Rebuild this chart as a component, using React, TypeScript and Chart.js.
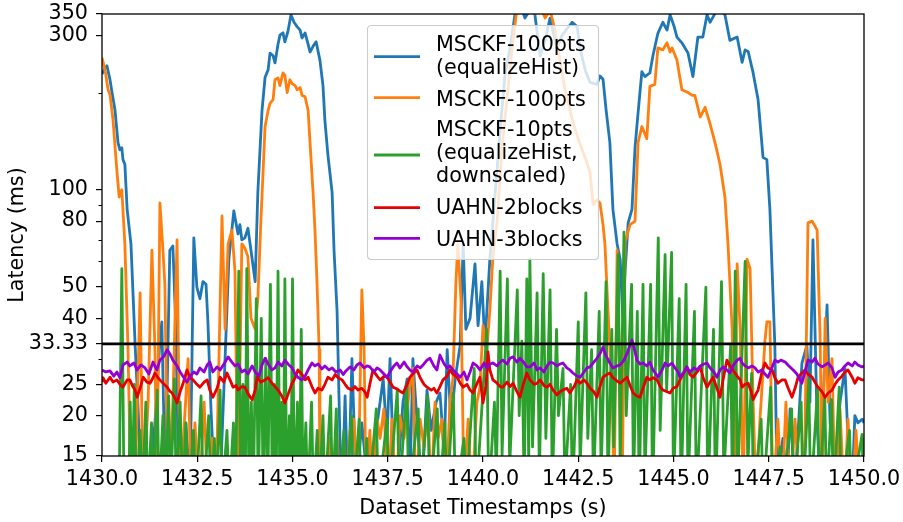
import React, { useEffect, useRef } from 'react';
import { Chart, registerables } from 'chart.js';

Chart.register(...registerables);

const FONT = '"DejaVu Sans", "Liberation Sans", sans-serif';
const FS = 20.7;

// ---- axis data ----
const xTicks = [1430, 1432.5, 1435, 1437.5, 1440, 1442.5, 1445, 1447.5, 1450];
const yMajorTicks = [15, 20, 25, 33.33, 40, 50, 80, 100, 300, 350];
const yMinorTicks = [30, 60, 70, 90, 200];
const threshold = 33.33;

// ---- series labels ----
const seriesLabels: string[][] = [
  ['MSCKF-100pts', '(equalizeHist)'],
  ['MSCKF-100pts'],
  ['MSCKF-10pts', '(equalizeHist,', 'downscaled)'],
  ['UAHN-2blocks'],
  ['UAHN-3blocks'],
];

// ---- series values [timestamp s, latency ms] ----
const msckf100Eq: [number, number][] = [
  [1430.0, 228], [1430.08, 238], [1430.13, 242], [1430.21, 219], [1430.26, 201], [1430.34, 177], [1430.42, 140], [1430.47, 133], [1430.52, 135], [1430.55, 124], [1430.6, 120], [1430.66, 87], [1430.76, 68], [1430.81, 49], [1430.87, 33], [1430.94, 22], [1431.02, 13], [1431.2, 11], [1431.39, 19], [1431.52, 34], [1431.57, 39], [1431.66, 12], [1431.78, 65], [1431.86, 67], [1431.94, 37], [1432.02, 11], [1432.2, 19], [1432.31, 12], [1432.41, 71], [1432.49, 50], [1432.57, 46], [1432.65, 52], [1432.73, 51], [1432.78, 39], [1432.86, 21], [1432.97, 11], [1433.1, 12], [1433.23, 30], [1433.33, 61], [1433.46, 86], [1433.57, 73], [1433.62, 78], [1433.67, 70], [1433.75, 71], [1433.83, 76], [1433.91, 65], [1434.02, 52], [1434.09, 98], [1434.2, 176], [1434.28, 223], [1434.36, 235], [1434.41, 265], [1434.49, 260], [1434.54, 247], [1434.62, 282], [1434.67, 301], [1434.75, 306], [1434.8, 287], [1434.88, 309], [1434.96, 348], [1435.04, 330], [1435.12, 320], [1435.2, 312], [1435.25, 295], [1435.33, 306], [1435.41, 282], [1435.46, 267], [1435.54, 278], [1435.62, 287], [1435.72, 252], [1435.8, 210], [1435.85, 164], [1435.93, 128], [1436.04, 98], [1436.09, 65], [1436.17, 42], [1436.25, 16], [1436.3, 11], [1436.38, 23], [1436.46, 11], [1436.56, 30], [1436.67, 12], [1436.82, 19], [1436.98, 12], [1437.17, 17], [1437.38, 26], [1437.48, 17], [1437.56, 30], [1437.64, 15.5], [1437.74, 12], [1437.9, 22], [1438.01, 26], [1438.08, 12], [1438.16, 30], [1438.27, 19], [1438.4, 12], [1438.53, 24], [1438.64, 18], [1438.77, 22], [1438.87, 23.5], [1438.98, 15.5], [1439.06, 32], [1439.16, 19], [1439.27, 26], [1439.4, 33], [1439.48, 68], [1439.55, 37], [1439.66, 40], [1439.79, 59], [1439.87, 38], [1439.97, 52], [1440.05, 33], [1440.18, 61], [1440.31, 94], [1440.45, 153], [1440.58, 228], [1440.71, 274], [1440.84, 350], [1440.97, 380], [1441.1, 340], [1441.23, 360], [1441.36, 350], [1441.5, 260], [1441.63, 290], [1441.76, 340], [1441.94, 274], [1442.07, 300], [1442.2, 314], [1442.34, 330], [1442.47, 320], [1442.55, 274], [1442.68, 235], [1442.81, 215], [1442.99, 212], [1443.07, 225], [1443.15, 220], [1443.23, 177], [1443.33, 140], [1443.41, 87], [1443.52, 68], [1443.6, 61], [1443.67, 40], [1443.73, 56], [1443.81, 79], [1443.91, 87], [1443.99, 135], [1444.07, 173], [1444.17, 232], [1444.25, 224], [1444.38, 230], [1444.46, 260], [1444.59, 305], [1444.72, 330], [1444.83, 312], [1444.91, 348], [1445.01, 322], [1445.09, 297], [1445.22, 285], [1445.38, 265], [1445.51, 224], [1445.64, 297], [1445.77, 297], [1445.88, 348], [1445.96, 330], [1446.04, 343], [1446.14, 360], [1446.22, 365], [1446.35, 348], [1446.48, 290], [1446.67, 297], [1446.8, 248], [1446.88, 271], [1446.96, 268], [1447.09, 230], [1447.22, 190], [1447.35, 126], [1447.45, 124], [1447.53, 87], [1447.61, 48], [1447.66, 33], [1447.72, 12], [1447.87, 17], [1447.98, 12], [1448.06, 21], [1448.19, 12], [1448.37, 29], [1448.5, 33], [1448.58, 22], [1448.66, 70], [1448.77, 19], [1448.85, 12], [1448.95, 26], [1449.03, 44], [1449.11, 19], [1449.24, 13], [1449.37, 22], [1449.5, 28], [1449.58, 17], [1449.69, 12], [1449.76, 20], [1449.84, 19], [1449.95, 19.5], [1450.0, 19],
];

const msckf100: [number, number][] = [
  [1430.0, 256], [1430.08, 235], [1430.16, 204], [1430.21, 197], [1430.29, 164], [1430.34, 137], [1430.39, 115], [1430.45, 95], [1430.52, 100], [1430.6, 68], [1430.68, 33], [1430.76, 11], [1430.87, 12], [1431.0, 48], [1431.08, 11], [1431.21, 22], [1431.31, 65], [1431.39, 32], [1431.44, 11], [1431.52, 91], [1431.6, 65], [1431.65, 51], [1431.73, 11], [1431.86, 22], [1431.97, 70], [1432.05, 11], [1432.15, 18], [1432.26, 30], [1432.34, 11], [1432.44, 19], [1432.55, 11], [1432.68, 22], [1432.78, 11], [1432.89, 17], [1432.99, 11], [1433.15, 83], [1433.23, 37], [1433.31, 68], [1433.41, 75], [1433.49, 56], [1433.57, 11], [1433.67, 68], [1433.75, 66], [1433.83, 62], [1433.91, 40], [1434.02, 37], [1434.09, 46], [1434.17, 80], [1434.28, 157], [1434.36, 176], [1434.41, 185], [1434.49, 190], [1434.54, 219], [1434.62, 222], [1434.67, 210], [1434.75, 230], [1434.8, 226], [1434.86, 200], [1434.93, 219], [1434.99, 213], [1435.07, 210], [1435.12, 204], [1435.2, 207], [1435.25, 196], [1435.33, 194], [1435.41, 176], [1435.46, 140], [1435.54, 98], [1435.59, 75], [1435.64, 53], [1435.7, 32], [1435.72, 11], [1435.88, 11], [1435.96, 17], [1436.04, 11], [1436.17, 17.5], [1436.25, 11], [1436.4, 12], [1436.51, 18], [1436.61, 19.5], [1436.72, 11], [1436.82, 49], [1436.88, 32], [1436.93, 11], [1437.03, 18], [1437.11, 11], [1437.22, 19.5], [1437.3, 17], [1437.4, 21], [1437.51, 11], [1437.61, 19.5], [1437.72, 11], [1437.82, 20], [1437.93, 17], [1438.03, 22], [1438.11, 26], [1438.16, 28], [1438.24, 11], [1438.35, 19.5], [1438.45, 16], [1438.56, 21], [1438.64, 11], [1438.74, 22], [1438.82, 17], [1438.92, 19.5], [1439.03, 11], [1439.13, 22], [1439.21, 26], [1439.29, 52], [1439.34, 68], [1439.42, 46], [1439.5, 12], [1439.61, 19.5], [1439.71, 11], [1439.84, 22], [1439.92, 24.5], [1440.0, 38], [1440.1, 32], [1440.18, 42.5], [1440.26, 62], [1440.37, 80], [1440.5, 135], [1440.63, 192], [1440.76, 271], [1440.87, 348], [1440.97, 380], [1441.1, 360], [1441.23, 375], [1441.36, 350], [1441.5, 370], [1441.63, 340], [1441.76, 360], [1441.89, 312], [1442.02, 252], [1442.15, 204], [1442.28, 177], [1442.36, 162], [1442.55, 138], [1442.7, 124], [1442.81, 113], [1442.89, 90], [1442.99, 93], [1443.07, 91], [1443.15, 78], [1443.2, 68], [1443.28, 42.5], [1443.39, 23.5], [1443.44, 11], [1443.52, 65], [1443.6, 22], [1443.65, 11], [1443.73, 69], [1443.86, 78], [1443.99, 80], [1444.07, 140], [1444.17, 157], [1444.3, 144], [1444.38, 209], [1444.51, 212], [1444.59, 275], [1444.72, 271], [1444.83, 285], [1444.91, 267], [1444.96, 275], [1445.09, 252], [1445.22, 204], [1445.38, 200], [1445.49, 196], [1445.56, 196], [1445.7, 168], [1445.83, 180], [1445.96, 160], [1446.09, 140], [1446.22, 120], [1446.35, 95], [1446.43, 68], [1446.54, 37], [1446.59, 11], [1446.67, 59], [1446.75, 37], [1446.83, 11], [1446.93, 61], [1447.01, 57], [1447.09, 22], [1447.17, 11], [1447.27, 19.5], [1447.4, 34], [1447.45, 39], [1447.53, 39], [1447.61, 11], [1447.74, 19.5], [1447.85, 11], [1447.95, 22], [1448.06, 11], [1448.19, 19.5], [1448.32, 11], [1448.45, 17], [1448.53, 79], [1448.64, 80], [1448.77, 75], [1448.85, 34], [1448.9, 11], [1448.98, 40], [1449.06, 22], [1449.16, 30], [1449.24, 11], [1449.37, 21], [1449.48, 11], [1449.58, 19.5], [1449.69, 11], [1449.79, 18], [1449.9, 11], [1450.0, 17],
];

const msckf10: [number, number][] = [
  [1430.0, 11], [1430.35, 11], [1430.45, 12], [1430.52, 57], [1430.58, 11], [1430.7, 11], [1430.74, 22], [1430.79, 11], [1430.85, 25], [1430.9, 11], [1431.0, 18], [1431.06, 11], [1431.15, 22], [1431.2, 11], [1431.3, 19], [1431.35, 11], [1431.45, 24], [1431.5, 11], [1431.6, 20], [1431.66, 11], [1431.75, 23], [1431.8, 11], [1431.9, 26], [1431.95, 11], [1432.05, 22], [1432.12, 11], [1432.2, 19], [1432.27, 11], [1432.4, 18], [1432.47, 11], [1432.6, 23], [1432.66, 11], [1432.8, 20], [1432.86, 11], [1432.95, 17], [1433.0, 11], [1433.1, 24], [1433.15, 11], [1433.28, 18], [1433.34, 11], [1433.45, 19], [1433.5, 11], [1433.59, 56], [1433.64, 11], [1433.7, 25], [1433.76, 11], [1433.8, 57], [1433.86, 11], [1433.92, 22], [1433.97, 11], [1434.05, 46], [1434.1, 11], [1434.18, 40], [1434.23, 11], [1434.3, 30], [1434.35, 11], [1434.42, 51], [1434.47, 11], [1434.52, 25], [1434.57, 11], [1434.62, 56], [1434.67, 11], [1434.72, 22], [1434.76, 11], [1434.8, 53], [1434.85, 11], [1434.92, 20], [1434.96, 11], [1435.0, 53], [1435.05, 11], [1435.13, 22], [1435.18, 11], [1435.23, 37], [1435.28, 11], [1435.35, 19], [1435.4, 11], [1435.5, 22], [1435.55, 11], [1435.65, 18], [1435.7, 11], [1435.8, 20], [1435.85, 11], [1436.0, 23], [1436.05, 11], [1436.15, 21], [1436.2, 11], [1436.35, 18], [1436.4, 11], [1436.55, 20], [1436.6, 11], [1436.75, 19.5], [1436.8, 11], [1436.95, 17], [1437.0, 11], [1437.2, 21], [1437.25, 11], [1437.48, 19.5], [1437.53, 11], [1437.75, 24], [1437.8, 11], [1438.0, 25], [1438.05, 11], [1438.3, 21], [1438.35, 11], [1438.55, 23], [1438.6, 11], [1438.8, 21], [1438.85, 11], [1439.0, 19], [1439.05, 11], [1439.22, 23.5], [1439.28, 11], [1439.5, 17], [1439.55, 11], [1439.77, 28], [1439.82, 11], [1440.1, 37], [1440.15, 11], [1440.3, 22], [1440.35, 13], [1440.45, 56], [1440.5, 15], [1440.64, 53], [1440.7, 14], [1440.9, 49], [1440.95, 20], [1441.02, 34], [1441.08, 12], [1441.15, 53], [1441.2, 14], [1441.23, 61], [1441.3, 16], [1441.42, 48], [1441.48, 13], [1441.58, 55], [1441.65, 17], [1441.76, 49], [1441.82, 12], [1441.93, 37], [1441.98, 20], [1442.1, 28], [1442.15, 12], [1442.3, 25], [1442.35, 11], [1442.5, 39], [1442.55, 14], [1442.7, 48], [1442.75, 17], [1442.85, 32], [1442.9, 12], [1443.05, 42], [1443.1, 13], [1443.23, 52], [1443.28, 12], [1443.38, 37], [1443.43, 16], [1443.55, 63], [1443.6, 14], [1443.7, 74], [1443.76, 20], [1443.9, 51], [1443.95, 12], [1444.05, 42], [1444.1, 11], [1444.2, 51], [1444.25, 13], [1444.4, 51], [1444.45, 11], [1444.6, 71], [1444.65, 18], [1444.78, 63], [1444.82, 24], [1444.95, 64], [1445.0, 12], [1445.15, 46], [1445.2, 11], [1445.33, 51], [1445.38, 12], [1445.55, 42], [1445.6, 11], [1445.85, 50], [1445.9, 11], [1446.05, 37], [1446.1, 11], [1446.26, 52], [1446.32, 13], [1446.5, 33], [1446.55, 11], [1446.62, 56], [1446.68, 12], [1446.88, 60], [1446.95, 14], [1447.05, 27], [1447.1, 11], [1447.3, 19.5], [1447.35, 11], [1447.55, 24.5], [1447.6, 11], [1447.8, 16], [1447.85, 11], [1448.1, 21], [1448.15, 11], [1448.35, 22], [1448.4, 11], [1448.55, 25.8], [1448.6, 11], [1448.78, 24], [1448.83, 11], [1448.97, 22.8], [1449.02, 11], [1449.15, 22.4], [1449.2, 11], [1449.35, 24.5], [1449.4, 11], [1449.62, 18], [1449.67, 11], [1449.95, 17.5], [1450.0, 11],
];

const uahn2: [number, number][] = [
  [1430.0, 25.4], [1430.03, 26.2], [1430.1, 25.2], [1430.21, 26.3], [1430.29, 25.4], [1430.39, 25.8], [1430.47, 25.0], [1430.55, 24.5], [1430.66, 25.8], [1430.73, 25.8], [1430.81, 24.6], [1430.87, 24.0], [1430.92, 22.8], [1431.0, 24.3], [1431.08, 26.3], [1431.18, 25.4], [1431.26, 25.2], [1431.34, 26.2], [1431.39, 27.1], [1431.47, 26.2], [1431.52, 25.8], [1431.63, 25.0], [1431.71, 24.5], [1431.78, 23.8], [1431.84, 23.5], [1431.92, 22.6], [1431.97, 21.9], [1432.05, 23.7], [1432.13, 25.2], [1432.23, 27.7], [1432.31, 26.2], [1432.39, 25.8], [1432.49, 25.0], [1432.57, 24.5], [1432.68, 25.4], [1432.76, 25.8], [1432.83, 24.0], [1432.91, 22.8], [1433.02, 24.3], [1433.1, 26.3], [1433.2, 25.4], [1433.28, 27.1], [1433.36, 25.8], [1433.44, 24.5], [1433.52, 24.8], [1433.57, 24.0], [1433.67, 24.6], [1433.75, 24.5], [1433.83, 23.4], [1433.94, 22.4], [1434.02, 24.0], [1434.07, 26.3], [1434.17, 25.4], [1434.28, 25.8], [1434.36, 26.2], [1434.46, 25.2], [1434.54, 24.6], [1434.62, 24.0], [1434.72, 23.0], [1434.8, 21.9], [1434.88, 23.2], [1434.99, 25.2], [1435.07, 26.2], [1435.14, 27.7], [1435.25, 26.8], [1435.33, 25.8], [1435.41, 26.3], [1435.51, 24.6], [1435.59, 23.5], [1435.67, 24.3], [1435.77, 24.0], [1435.85, 25.0], [1435.93, 26.3], [1436.04, 25.8], [1436.12, 26.8], [1436.2, 26.2], [1436.3, 25.8], [1436.38, 25.0], [1436.46, 24.3], [1436.56, 24.0], [1436.64, 24.6], [1436.72, 24.0], [1436.82, 24.3], [1436.9, 23.7], [1436.96, 22.8], [1437.03, 25.0], [1437.11, 27.7], [1437.22, 26.5], [1437.3, 25.8], [1437.4, 26.5], [1437.48, 26.3], [1437.56, 25.4], [1437.64, 24.5], [1437.74, 24.2], [1437.82, 23.8], [1437.9, 23.5], [1438.01, 25.0], [1438.08, 26.3], [1438.16, 26.9], [1438.27, 27.7], [1438.35, 26.2], [1438.45, 25.0], [1438.53, 24.5], [1438.64, 24.0], [1438.71, 24.3], [1438.79, 23.5], [1438.87, 24.6], [1438.95, 25.8], [1439.06, 26.5], [1439.13, 27.7], [1439.21, 26.9], [1439.32, 26.3], [1439.4, 25.2], [1439.48, 24.5], [1439.58, 25.0], [1439.66, 24.0], [1439.74, 23.5], [1439.82, 24.8], [1439.92, 26.3], [1440.0, 21.9], [1440.08, 24.8], [1440.13, 31.5], [1440.18, 27.7], [1440.26, 25.8], [1440.37, 25.2], [1440.45, 24.6], [1440.52, 24.5], [1440.63, 25.4], [1440.71, 24.6], [1440.79, 25.2], [1440.87, 24.0], [1440.97, 22.8], [1441.05, 24.8], [1441.15, 27.1], [1441.23, 25.8], [1441.34, 25.0], [1441.42, 25.2], [1441.5, 25.8], [1441.6, 24.8], [1441.68, 24.5], [1441.76, 25.0], [1441.84, 24.0], [1441.94, 23.2], [1442.02, 23.7], [1442.1, 24.0], [1442.2, 24.3], [1442.28, 23.5], [1442.39, 24.6], [1442.47, 25.8], [1442.55, 25.2], [1442.65, 25.8], [1442.73, 25.2], [1442.81, 24.3], [1442.91, 23.7], [1442.99, 22.8], [1443.07, 24.6], [1443.15, 26.3], [1443.25, 26.8], [1443.33, 27.1], [1443.41, 26.2], [1443.52, 25.6], [1443.6, 25.2], [1443.7, 25.8], [1443.78, 26.3], [1443.86, 24.8], [1443.94, 23.5], [1444.04, 23.0], [1444.12, 22.8], [1444.2, 24.3], [1444.3, 26.3], [1444.38, 25.8], [1444.46, 26.2], [1444.57, 25.8], [1444.65, 24.6], [1444.72, 24.0], [1444.83, 23.7], [1444.91, 23.5], [1444.99, 24.3], [1445.09, 24.6], [1445.17, 25.8], [1445.28, 27.3], [1445.35, 28.3], [1445.43, 26.8], [1445.51, 26.3], [1445.62, 27.3], [1445.7, 28.3], [1445.78, 26.2], [1445.88, 24.5], [1445.96, 25.4], [1446.04, 26.3], [1446.14, 24.3], [1446.22, 22.8], [1446.3, 25.8], [1446.4, 29.7], [1446.48, 28.5], [1446.56, 27.7], [1446.67, 26.5], [1446.75, 25.8], [1446.8, 24.5], [1446.88, 25.0], [1446.96, 25.2], [1447.04, 23.7], [1447.09, 22.4], [1447.17, 23.4], [1447.22, 24.0], [1447.32, 27.3], [1447.4, 29.1], [1447.48, 28.1], [1447.59, 27.7], [1447.66, 26.2], [1447.74, 25.2], [1447.85, 25.8], [1447.93, 25.8], [1448.01, 24.3], [1448.11, 22.8], [1448.19, 24.3], [1448.27, 26.3], [1448.37, 27.1], [1448.45, 27.7], [1448.53, 26.9], [1448.64, 26.3], [1448.71, 25.4], [1448.79, 24.5], [1448.9, 23.7], [1448.98, 22.8], [1449.06, 23.5], [1449.16, 24.0], [1449.24, 25.0], [1449.32, 25.8], [1449.42, 26.5], [1449.5, 27.3], [1449.58, 27.7], [1449.69, 26.3], [1449.76, 25.2], [1449.84, 26.2], [1449.95, 25.8], [1450.0, 25.8],
];

const uahn3: [number, number][] = [
  [1430.0, 27.7], [1430.1, 27.3], [1430.21, 27.5], [1430.31, 26.5], [1430.39, 27.3], [1430.47, 26.2], [1430.55, 28.7], [1430.66, 29.3], [1430.73, 28.5], [1430.84, 29.1], [1430.92, 27.7], [1431.02, 28.7], [1431.13, 28.1], [1431.23, 26.9], [1431.34, 29.3], [1431.44, 27.7], [1431.52, 29.7], [1431.63, 30.6], [1431.71, 32.0], [1431.78, 31.1], [1431.86, 29.7], [1431.97, 28.5], [1432.05, 27.3], [1432.15, 26.2], [1432.23, 25.4], [1432.31, 26.5], [1432.41, 27.3], [1432.49, 26.9], [1432.57, 28.1], [1432.68, 27.3], [1432.76, 28.7], [1432.83, 29.3], [1432.91, 27.3], [1433.02, 28.3], [1433.1, 27.7], [1433.2, 28.9], [1433.31, 30.4], [1433.41, 29.3], [1433.49, 28.5], [1433.57, 28.9], [1433.67, 27.3], [1433.75, 27.7], [1433.83, 26.9], [1433.94, 28.5], [1434.02, 27.3], [1434.12, 26.5], [1434.2, 28.7], [1434.28, 30.1], [1434.36, 28.9], [1434.46, 27.7], [1434.54, 28.1], [1434.62, 29.3], [1434.72, 28.5], [1434.8, 29.7], [1434.88, 28.9], [1434.99, 28.1], [1435.07, 26.9], [1435.14, 26.3], [1435.25, 25.8], [1435.33, 26.5], [1435.41, 27.7], [1435.51, 29.1], [1435.59, 28.5], [1435.67, 28.9], [1435.77, 27.9], [1435.85, 28.5], [1435.96, 27.7], [1436.04, 28.1], [1436.14, 27.3], [1436.25, 27.7], [1436.33, 26.8], [1436.4, 27.5], [1436.51, 28.3], [1436.61, 27.7], [1436.69, 28.7], [1436.77, 29.1], [1436.88, 28.1], [1436.96, 28.5], [1437.03, 28.3], [1437.14, 27.3], [1437.22, 28.1], [1437.3, 27.7], [1437.4, 26.9], [1437.48, 26.3], [1437.59, 27.7], [1437.66, 28.5], [1437.74, 29.1], [1437.82, 28.1], [1437.93, 29.3], [1438.01, 28.3], [1438.08, 27.7], [1438.16, 27.3], [1438.27, 28.5], [1438.35, 28.1], [1438.45, 28.9], [1438.53, 29.7], [1438.61, 30.1], [1438.71, 28.5], [1438.79, 27.7], [1438.87, 30.8], [1438.98, 28.9], [1439.06, 28.1], [1439.13, 28.5], [1439.21, 27.7], [1439.32, 26.9], [1439.4, 26.3], [1439.5, 27.3], [1439.58, 25.8], [1439.66, 27.3], [1439.74, 29.1], [1439.84, 28.5], [1439.92, 27.7], [1440.03, 29.1], [1440.1, 28.1], [1440.18, 28.9], [1440.26, 29.1], [1440.37, 28.5], [1440.45, 29.3], [1440.52, 29.7], [1440.63, 28.9], [1440.71, 30.1], [1440.79, 30.4], [1440.89, 29.3], [1440.97, 30.1], [1441.08, 29.1], [1441.15, 28.3], [1441.23, 28.3], [1441.34, 29.1], [1441.42, 27.7], [1441.5, 28.1], [1441.6, 27.3], [1441.68, 28.5], [1441.76, 29.3], [1441.84, 29.1], [1441.94, 28.5], [1442.02, 28.9], [1442.1, 29.1], [1442.2, 28.1], [1442.28, 27.7], [1442.36, 27.1], [1442.47, 26.5], [1442.55, 26.3], [1442.65, 27.3], [1442.73, 28.1], [1442.81, 28.3], [1442.91, 29.3], [1442.99, 30.1], [1443.07, 31.1], [1443.15, 32.6], [1443.23, 30.6], [1443.33, 29.1], [1443.41, 28.1], [1443.52, 28.5], [1443.6, 28.7], [1443.7, 29.7], [1443.78, 31.1], [1443.86, 33.1], [1443.91, 34.3], [1443.99, 31.5], [1444.04, 29.7], [1444.12, 28.9], [1444.2, 29.1], [1444.3, 28.5], [1444.38, 29.3], [1444.46, 27.7], [1444.54, 26.9], [1444.59, 26.3], [1444.7, 27.7], [1444.78, 29.1], [1444.86, 28.5], [1444.96, 29.1], [1445.04, 28.1], [1445.12, 27.3], [1445.17, 26.3], [1445.28, 27.3], [1445.35, 28.3], [1445.43, 27.3], [1445.54, 28.1], [1445.62, 27.7], [1445.7, 28.5], [1445.8, 28.9], [1445.88, 29.1], [1445.96, 28.1], [1446.06, 27.3], [1446.14, 26.3], [1446.22, 27.7], [1446.3, 28.3], [1446.4, 27.7], [1446.48, 27.1], [1446.56, 28.5], [1446.67, 29.7], [1446.75, 30.1], [1446.8, 29.1], [1446.88, 28.5], [1446.96, 28.1], [1447.06, 28.5], [1447.14, 28.1], [1447.22, 27.3], [1447.32, 27.7], [1447.4, 26.9], [1447.48, 26.3], [1447.56, 27.7], [1447.66, 29.7], [1447.74, 29.3], [1447.82, 29.7], [1447.93, 29.3], [1448.03, 28.5], [1448.14, 27.7], [1448.24, 26.9], [1448.32, 25.8], [1448.37, 25.2], [1448.45, 27.3], [1448.53, 29.7], [1448.64, 29.3], [1448.71, 30.1], [1448.79, 28.9], [1448.9, 28.3], [1448.98, 28.7], [1449.06, 29.1], [1449.16, 28.1], [1449.24, 26.3], [1449.32, 27.3], [1449.42, 27.7], [1449.5, 28.5], [1449.58, 29.1], [1449.69, 28.5], [1449.76, 29.3], [1449.84, 28.7], [1449.95, 28.3], [1450.0, 28.5],
];

const seriesData = [msckf100Eq, msckf100, msckf10, uahn2, uahn3];
const seriesColors = ['#1f77b4', '#ff7f0e', '#2ca02c', '#e60000', '#9400d3'];

// ---- plugins ----
const framePlugin = {
  id: 'frameAndMinor',
  afterDatasetsDraw(chart: any) {
    const { ctx, chartArea } = chart;
    const y = chart.scales.y;
    ctx.save();
    ctx.strokeStyle = '#000';
    ctx.lineWidth = 1.3;
    ctx.strokeRect(chartArea.left, chartArea.top, chartArea.right - chartArea.left, chartArea.bottom - chartArea.top);
    ctx.lineWidth = 1;
    yMinorTicks.forEach((v) => {
      const py = Math.round(y.getPixelForValue(v)) + 0.5;
      ctx.beginPath();
      ctx.moveTo(chartArea.left - 3.5, py);
      ctx.lineTo(chartArea.left, py);
      ctx.stroke();
    });
    ctx.restore();
  },
};

function roundRectPath(ctx: CanvasRenderingContext2D, x: number, y: number, w: number, h: number, r: number) {
  ctx.beginPath();
  ctx.moveTo(x + r, y);
  ctx.lineTo(x + w - r, y);
  ctx.quadraticCurveTo(x + w, y, x + w, y + r);
  ctx.lineTo(x + w, y + h - r);
  ctx.quadraticCurveTo(x + w, y + h, x + w - r, y + h);
  ctx.lineTo(x + r, y + h);
  ctx.quadraticCurveTo(x, y + h, x, y + h - r);
  ctx.lineTo(x, y + r);
  ctx.quadraticCurveTo(x, y, x + r, y);
  ctx.closePath();
}

const legendPlugin = {
  id: 'mplLegend',
  afterDraw(chart: any) {
    const ctx: CanvasRenderingContext2D = chart.ctx;
    ctx.save();
    roundRectPath(ctx, 367.5, 25.5, 231, 234, 4);
    ctx.fillStyle = 'rgba(255,255,255,0.8)';
    ctx.fill();
    ctx.strokeStyle = '#cccccc';
    ctx.lineWidth = 1.1;
    ctx.stroke();
    const lineYs = [56.7, 97.7, 155, 207.7, 238.3];
    const firstBaselines = [51, 105.7, 135.7, 214.3, 245.7];
    const lineGap = 23.2;
    ctx.font = `${FS}px ${FONT}`;
    ctx.fillStyle = '#000';
    ctx.textBaseline = 'alphabetic';
    ctx.textAlign = 'left';
    seriesLabels.forEach((lines, i) => {
      ctx.strokeStyle = seriesColors[i];
      ctx.lineWidth = 2.8;
      ctx.lineCap = 'butt';
      ctx.beginPath();
      ctx.moveTo(374, lineYs[i]);
      ctx.lineTo(420, lineYs[i]);
      ctx.stroke();
      lines.forEach((t, j) => {
        ctx.fillText(t, 436, firstBaselines[i] + j * lineGap);
      });
    });
    ctx.restore();
  },
};

export default function App() {
  const ref = useRef<HTMLCanvasElement | null>(null);
  useEffect(() => {
    if (!ref.current) return;
    const datasets: any[] = seriesData.map((d, i) => ({
      label: seriesLabels[i].join(' '),
      data: d,
      borderColor: seriesColors[i],
      backgroundColor: seriesColors[i],
      borderWidth: 2.8,
      pointRadius: 0,
      tension: 0,
      fill: false,
      clip: 0,
      order: 10 - i,
      borderJoinStyle: 'round',
      borderCapStyle: 'butt',
    }));
    datasets.push({
      label: 'threshold',
      data: [[xTicks[0], threshold], [xTicks[xTicks.length - 1], threshold]],
      borderColor: '#000',
      borderWidth: 2.8,
      pointRadius: 0,
      fill: false,
      clip: 0,
      order: -1,
    });
    const chart = new Chart(ref.current, {
      type: 'line',
      data: { datasets },
      options: {
        responsive: false,
        animation: false,
        events: [],
        layout: { padding: { top: 14, right: 39, left: 0, bottom: 0 } },
        plugins: { legend: { display: false }, tooltip: { enabled: false }, title: { display: false } },
        scales: {
          x: {
            type: 'linear',
            min: xTicks[0],
            max: xTicks[xTicks.length - 1],
            afterBuildTicks: (s: any) => {
              s.ticks = xTicks.map((v) => ({ value: v }));
            },
            ticks: {
              autoSkip: false,
              maxRotation: 0,
              color: '#000',
              padding: 5,
              font: { family: FONT, size: FS },
              callback: (v: any) => Number(v).toFixed(1),
            },
            grid: { drawOnChartArea: false, drawTicks: true, tickLength: 6, color: '#000', lineWidth: 1.2 },
            border: { display: false },
            title: {
              display: true,
              text: 'Dataset Timestamps (s)',
              color: '#000',
              font: { family: FONT, size: FS },
              padding: { top: 0, bottom: 1 },
            },
            afterFit: (s: any) => {
              s.height = 66;
              s.paddingLeft = 0;
              s.paddingRight = 0;
              s.paddingTop = 0;
              s.paddingBottom = 0;
            },
          },
          y: {
            type: 'logarithmic',
            min: yMajorTicks[0],
            max: yMajorTicks[yMajorTicks.length - 1],
            afterBuildTicks: (s: any) => {
              s.ticks = yMajorTicks.map((v) => ({ value: v }));
            },
            ticks: {
              autoSkip: false,
              color: '#000',
              padding: 8,
              font: { family: FONT, size: FS },
              callback: (v: any) => String(v),
            },
            grid: { drawOnChartArea: false, drawTicks: true, tickLength: 6, color: '#000', lineWidth: 1.2 },
            border: { display: false },
            title: {
              display: true,
              text: 'Latency (ms)',
              color: '#000',
              font: { family: FONT, size: FS },
              padding: { top: 4.8, bottom: 0 },
            },
            afterFit: (s: any) => {
              s.width = 102;
              s.paddingLeft = 0;
              s.paddingRight = 0;
              s.paddingTop = 0;
              s.paddingBottom = 0;
            },
          },
        },
      } as any,
      plugins: [framePlugin, legendPlugin],
    });
    return () => chart.destroy();
  }, []);
  return (
    <div style={{ position: 'absolute', left: 0, top: 0, width: 903, height: 522, background: '#fff' }}>
      <canvas ref={ref} width={903} height={522} style={{ display: 'block', width: 903, height: 522 }} />
    </div>
  );
}
